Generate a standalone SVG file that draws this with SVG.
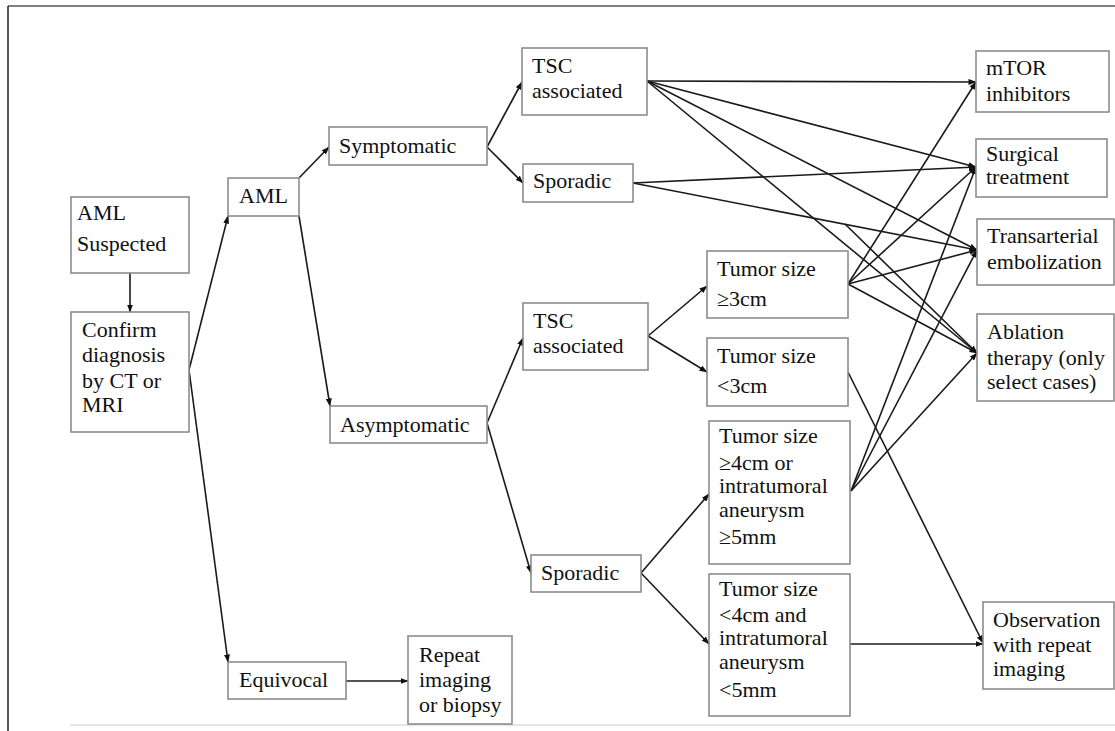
<svg xmlns="http://www.w3.org/2000/svg" width="1115" height="731" viewBox="0 0 1115 731">
<defs>
<marker id="ah" markerWidth="8" markerHeight="6" refX="7.5" refY="3" orient="auto" markerUnits="userSpaceOnUse">
<path d="M0,0 L8,3 L0,6 Z" fill="#111"/>
</marker>
<style>
.box{fill:#fff;stroke:#8c8c8c;stroke-width:1.6}
.t{font-family:"Liberation Serif","Times New Roman",serif;font-size:22px;fill:#111}
.c line{stroke:#1a1a1a;stroke-width:1.6;fill:none}
.c line.a{marker-end:url(#ah)}
</style>
</defs>
<rect x="0" y="0" width="1115" height="731" fill="#fff"/>
<!-- frame -->
<line x1="8" y1="6" x2="1115" y2="6" stroke="#555" stroke-width="1.5"/>
<line x1="8" y1="6" x2="8" y2="731" stroke="#222" stroke-width="1.5"/>
<line x1="70" y1="725" x2="1115" y2="725" stroke="#dcdcdc" stroke-width="1.5"/>

<g class="c" id="connectors">
<line class="a" x1="130" y1="273" x2="130" y2="312"/>
<line class="a" x1="189" y1="370" x2="228" y2="216"/>
<line class="a" x1="189" y1="370" x2="228" y2="662"/>
<line class="a" x1="299" y1="178" x2="329" y2="147"/>
<line class="a" x1="299" y1="216" x2="330" y2="406"/>
<line class="a" x1="487" y1="147" x2="522" y2="82"/>
<line class="a" x1="487" y1="147" x2="523" y2="183"/>
<line class="a" x1="487" y1="423" x2="523" y2="338"/>
<line class="a" x1="487" y1="423" x2="531" y2="573"/>
<line class="a" x1="346" y1="681" x2="408" y2="681"/>
<line class="a" x1="647" y1="81" x2="976" y2="82"/>
<line class="a" x1="647" y1="81" x2="976" y2="167"/>
<line class="a" x1="647" y1="81" x2="977" y2="250"/>
<line class="a" x1="647" y1="81" x2="977" y2="353"/>
<line class="a" x1="633" y1="183" x2="976" y2="167"/>
<line class="a" x1="633" y1="183" x2="977" y2="250"/>
<line class="a" x1="845" y1="224" x2="977" y2="353"/>
<line class="a" x1="648" y1="336" x2="707" y2="286"/>
<line class="a" x1="648" y1="336" x2="707" y2="372"/>
<line class="a" x1="848" y1="284" x2="976" y2="82"/>
<line class="a" x1="848" y1="284" x2="976" y2="167"/>
<line class="a" x1="848" y1="284" x2="977" y2="250"/>
<line class="a" x1="848" y1="284" x2="977" y2="353"/>
<line class="a" x1="848" y1="372" x2="983" y2="643"/>
<line class="a" x1="641" y1="573" x2="709" y2="494"/>
<line class="a" x1="641" y1="573" x2="709" y2="644"/>
<line class="a" x1="851" y1="491" x2="976" y2="167"/>
<line class="a" x1="851" y1="491" x2="977" y2="250"/>
<line class="a" x1="851" y1="491" x2="977" y2="353"/>
<line class="a" x1="850" y1="644" x2="983" y2="644"/>
</g>

<g id="aml-suspected"><rect class="box" x="71" y="197" width="118" height="76"/>
<text class="t" x="77" y="220">AML</text><text class="t" x="77" y="251">Suspected</text></g>

<g id="confirm"><rect class="box" x="71" y="312" width="118" height="120"/>
<text class="t" x="82" y="337">Confirm</text><text class="t" x="82" y="362">diagnosis</text>
<text class="t" x="82" y="388">by CT or</text><text class="t" x="82" y="412">MRI</text></g>

<g id="aml"><rect class="box" x="228" y="178" width="71" height="38"/>
<text class="t" x="239" y="203">AML</text></g>

<g id="symptomatic"><rect class="box" x="329" y="127" width="158" height="38"/>
<text class="t" x="339" y="153">Symptomatic</text></g>

<g id="asymptomatic"><rect class="box" x="330" y="406" width="157" height="37"/>
<text class="t" x="340" y="432">Asymptomatic</text></g>

<g id="equivocal"><rect class="box" x="228" y="662" width="118" height="37"/>
<text class="t" x="239" y="687">Equivocal</text></g>

<g id="repeat"><rect class="box" x="408" y="636" width="104" height="88"/>
<text class="t" x="419" y="662">Repeat</text><text class="t" x="419" y="687">imaging</text>
<text class="t" x="419" y="712">or biopsy</text></g>

<g id="tsc-sym"><rect class="box" x="522" y="48" width="125" height="67"/>
<text class="t" x="532" y="73">TSC</text><text class="t" x="532" y="98">associated</text></g>

<g id="sporadic-sym"><rect class="box" x="523" y="164" width="110" height="38"/>
<text class="t" x="533" y="188">Sporadic</text></g>

<g id="tsc-asym"><rect class="box" x="523" y="303" width="125" height="67"/>
<text class="t" x="533" y="328">TSC</text><text class="t" x="533" y="353">associated</text></g>

<g id="sporadic-asym"><rect class="box" x="531" y="555" width="110" height="37"/>
<text class="t" x="541" y="580">Sporadic</text></g>

<g id="tumor-ge3"><rect class="box" x="707" y="251" width="141" height="67"/>
<text class="t" x="717" y="276">Tumor size</text><text class="t" x="717" y="306">≥3cm</text></g>

<g id="tumor-lt3"><rect class="box" x="707" y="338" width="141" height="68"/>
<text class="t" x="717" y="363">Tumor size</text><text class="t" x="717" y="393">&lt;3cm</text></g>

<g id="tumor-ge4"><rect class="box" x="709" y="421" width="141" height="143"/>
<text class="t" x="719" y="443">Tumor size</text><text class="t" x="719" y="470">≥4cm or</text>
<text class="t" x="719" y="493">intratumoral</text><text class="t" x="719" y="517">aneurysm</text>
<text class="t" x="719" y="544">≥5mm</text></g>

<g id="tumor-lt4"><rect class="box" x="709" y="574" width="141" height="142"/>
<text class="t" x="719" y="596">Tumor size</text><text class="t" x="719" y="622">&lt;4cm and</text>
<text class="t" x="719" y="645">intratumoral</text><text class="t" x="719" y="669">aneurysm</text>
<text class="t" x="719" y="697">&lt;5mm</text></g>

<g id="mtor"><rect class="box" x="976" y="51" width="133" height="61"/>
<text class="t" x="986" y="75">mTOR</text><text class="t" x="986" y="101">inhibitors</text></g>

<g id="surgical"><rect class="box" x="976" y="139" width="131" height="58"/>
<text class="t" x="986" y="161">Surgical</text><text class="t" x="986" y="184">treatment</text></g>

<g id="transarterial"><rect class="box" x="977" y="219" width="137" height="66"/>
<text class="t" x="987" y="243">Transarterial</text><text class="t" x="987" y="269">embolization</text></g>

<g id="ablation"><rect class="box" x="977" y="314" width="137" height="87"/>
<text class="t" x="987" y="339">Ablation</text><text class="t" x="987" y="365">therapy (only</text>
<text class="t" x="987" y="389">select cases)</text></g>

<g id="observation"><rect class="box" x="983" y="602" width="131" height="87"/>
<text class="t" x="993" y="627">Observation</text><text class="t" x="993" y="652">with repeat</text>
<text class="t" x="993" y="676">imaging</text></g>
</svg>
